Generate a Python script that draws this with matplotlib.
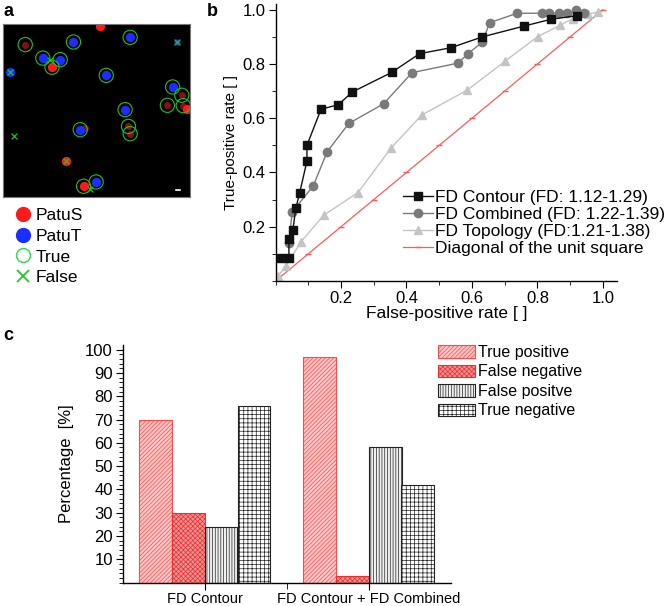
import matplotlib as mpl
import matplotlib.pyplot as plt
from matplotlib.lines import Line2D
import numpy as np

mpl.rcParams.update({
    "font.family": ["Liberation Sans", "DejaVu Sans"],
    "font.size": 12,
    "axes.linewidth": 1.0,
    "hatch.linewidth": 0.5,
    "xtick.direction": "out",
    "ytick.direction": "out",
    "xtick.major.size": 5,
    "ytick.major.size": 5,
    "xtick.minor.size": 3,
    "ytick.minor.size": 3,
})

# ── (a) microscopy overlay, positions as image fractions (x right, y down) ──
patus_bright = [(0.52, 0.01), (0.262, 0.25), (0.338, 0.794), (0.431, 0.938), (0.985, 0.49)]
patus_dim = [(0.119, 0.119), (0.956, 0.412), (0.879, 0.47), (0.964, 0.472),
             (0.671, 0.592), (0.68, 0.634), (0.44, 0.60)]
patut = [(0.377, 0.104), (0.68, 0.077), (0.213, 0.197), (0.306, 0.206), (0.039, 0.279),
         (0.552, 0.297), (0.907, 0.364), (0.653, 0.495), (0.413, 0.611), (0.498, 0.913)]
patut_small = [(0.929, 0.104), (0.045, 0.27)]
true_hits = [(0.119, 0.119), (0.377, 0.104), (0.68, 0.077), (0.213, 0.197), (0.306, 0.206),
             (0.262, 0.25), (0.552, 0.297), (0.907, 0.364), (0.956, 0.412), (0.879, 0.47),
             (0.964, 0.472), (0.653, 0.495), (0.413, 0.611), (0.671, 0.592), (0.68, 0.634),
             (0.431, 0.938), (0.498, 0.913)]
false_hits = [(0.929, 0.104), (0.253, 0.21), (0.039, 0.279), (0.057, 0.645),
              (0.338, 0.794), (0.466, 0.954)]

# ── (b) ROC curves ──
contour_fpr = [0.018, 0.041, 0.041, 0.053, 0.062, 0.074, 0.096, 0.096, 0.139, 0.192,
               0.235, 0.355, 0.44, 0.536, 0.632, 0.76, 0.842, 0.921]
contour_tpr = [0.084, 0.084, 0.154, 0.188, 0.268, 0.326, 0.442, 0.50, 0.633, 0.65,
               0.697, 0.769, 0.838, 0.86, 0.90, 0.94, 0.965, 0.978]
combined_fpr = [0.041, 0.051, 0.115, 0.158, 0.224, 0.33, 0.417, 0.557, 0.588, 0.632,
                0.654, 0.738, 0.813, 0.835, 0.867, 0.889, 0.919, 0.942]
combined_tpr = [0.141, 0.255, 0.35, 0.477, 0.581, 0.653, 0.768, 0.803, 0.838, 0.881,
                0.952, 0.987, 0.987, 0.987, 0.987, 0.987, 0.998, 0.987]
topology_fpr = [0.008, 0.033, 0.078, 0.148, 0.252, 0.352, 0.447, 0.586, 0.702, 0.801,
                0.868, 0.908, 0.954, 0.985]
topology_tpr = [0.018, 0.057, 0.145, 0.243, 0.326, 0.489, 0.612, 0.704, 0.811, 0.901,
                0.942, 0.967, 0.984, 0.991]
diag_vals = [0.0, 0.1, 0.2, 0.3, 0.4, 0.5, 0.6, 0.7, 0.8, 0.9, 1.0]

# ── (c) classification percentages ──
groups = ["FD Contour", "FD Contour + FD Combined"]
true_pos = [70, 97]
false_neg = [30, 3]
false_pos = [24, 58]
true_neg = [76, 42]

fig = plt.figure(figsize=(6.66, 6.06), dpi=100)
W, H = 666, 606


def px_axes(x0, y0, x1, y1):
    return fig.add_axes([x0 / W, 1 - y1 / H, (x1 - x0) / W, (y1 - y0) / H])


# ── panel a ──────────────────────────────────────────────────
ax = px_axes(3, 24, 190, 197)
ax.set_facecolor("black")
ax.set_xlim(0, 1)
ax.set_ylim(1, 0)
ax.set_xticks([])
ax.set_yticks([])
for s in ax.spines.values():
    s.set_color("#777777")
    s.set_linewidth(0.8)
xy = np.array(patus_dim)
ax.scatter(xy[:, 0], xy[:, 1], s=16, color="#8a1010", zorder=2)
xy = np.array(patus_bright)
ax.scatter(xy[:, 0], xy[:, 1], s=32, color="#ff1a1a", zorder=2)
xy = np.array(patut)
ax.scatter(xy[:, 0], xy[:, 1], s=32, color="#1a2eff", zorder=2)
xy = np.array(patut_small)
ax.scatter(xy[:, 0], xy[:, 1], s=12, color="#1a2eff", zorder=2)
xy = np.array(true_hits)
ax.scatter(xy[:, 0], xy[:, 1], s=105, facecolors="none", edgecolors="#22c022",
           linewidths=0.8, zorder=3)
xy = np.array(false_hits)
ax.scatter(xy[:, 0], xy[:, 1], s=18, marker="x", color="#22c022", linewidths=0.9, zorder=3)
ax.plot([0.925, 0.945], [0.958, 0.958], color="white", linewidth=1.2)

handles_a = [
    Line2D([], [], linestyle="none", marker="o", markersize=10, color="#ff1a1a"),
    Line2D([], [], linestyle="none", marker="o", markersize=10, color="#1a2eff"),
    Line2D([], [], linestyle="none", marker="o", markersize=10, markerfacecolor="none",
           markeredgecolor="#22dd44", markeredgewidth=1.0),
    Line2D([], [], linestyle="none", marker="x", markersize=8, color="#22cc22",
           markeredgewidth=1.3),
]
fig.legend(handles_a, ["PatuS", "PatuT", "True", "False"], loc="upper left",
           bbox_to_anchor=(14 / W, 1 - 208 / H), frameon=False, fontsize=12.5,
           handlelength=1.0, handletextpad=0.25, labelspacing=0.32,
           borderpad=0, borderaxespad=0)

# ── panel b ──────────────────────────────────────────────────
ax = px_axes(275.5, 4.3, 617, 281)
ax.plot(diag_vals, diag_vals, "-", marker="_", markersize=4, color="#ff5a5a",
        linewidth=0.9, label="Diagonal of the unit square", zorder=1)
ax.plot(topology_fpr, topology_tpr, "^-", color="#c4c4c4", markersize=6, linewidth=1.0,
        label="FD Topology (FD:1.21-1.38)", zorder=2)
ax.plot(combined_fpr, combined_tpr, "o-", color="#7a7a7a", markersize=6, linewidth=1.0,
        label="FD Combined (FD: 1.22-1.39)", zorder=3)
ax.plot(contour_fpr, contour_tpr, "s-", color="#111111", markersize=5.5, linewidth=1.0,
        label="FD Contour (FD: 1.12-1.29)", zorder=4)
ax.set_xlim(0, 1.043)
ax.set_ylim(0, 1.02)
ax.spines["top"].set_visible(False)
ax.spines["right"].set_visible(False)
ax.set_xticks([0.2, 0.4, 0.6, 0.8, 1.0])
ax.set_xticks([0.0, 0.1, 0.3, 0.5, 0.7, 0.9], minor=True)
ax.set_yticks([0.2, 0.4, 0.6, 0.8, 1.0])
ax.set_yticks([0.0, 0.1, 0.3, 0.5, 0.7, 0.9], minor=True)
ax.tick_params(labelsize=12, pad=2)
ax.set_xlabel("False-positive rate [ ]", fontsize=12.5, labelpad=0)
ax.set_ylabel("True-positive rate [ ]", fontsize=11, labelpad=3)
h, l = ax.get_legend_handles_labels()
order = [3, 2, 1, 0]
ax.legend([h[i] for i in order], [l[i] for i in order], loc="upper left",
          bbox_to_anchor=(403 / W, 1 - 190 / H), bbox_transform=fig.transFigure,
          frameon=False, fontsize=12.5, handlelength=1.7, handletextpad=0.12,
          labelspacing=0.1, borderpad=0, borderaxespad=0)

# ── panel c ──────────────────────────────────────────────────
ax = px_axes(122.7, 345, 450.7, 582.6)
x = np.arange(1, len(groups) + 1)
bw = 0.2
ax.bar(x - 0.3, true_pos, bw, facecolor="#ffc6c6", edgecolor="#ff4a4a", hatch="////////",
       linewidth=0.8, label="True positive")
ax.bar(x - 0.1, false_neg, bw, facecolor="#f39090", edgecolor="#e83030", hatch="xxxxxxx",
       linewidth=0.8, label="False negative")
ax.bar(x + 0.1, false_pos, bw, facecolor="#f0f0f0", edgecolor="#222222", hatch="||||||",
       linewidth=0.8, label="False positve")
ax.bar(x + 0.3, true_neg, bw, facecolor="white", edgecolor="#222222", hatch="++++",
       linewidth=0.8, label="True negative")
ax.set_xlim(0.5, 2.5)
ax.set_ylim(0, 102)
ax.spines["top"].set_visible(False)
ax.spines["right"].set_visible(False)
ax.set_xticks(x)
ax.set_xticklabels(groups, fontsize=10.5)
ax.set_xticks([1.5], minor=True)
ax.set_yticks(np.arange(10, 101, 10))
ax.set_yticks(np.arange(0, 101, 2), minor=True)
ax.tick_params(axis="y", labelsize=12, pad=2)
ax.tick_params(axis="x", pad=1.5)
ax.tick_params(axis="x", which="minor", length=4)
ax.set_ylabel("Percentage  [%]", fontsize=12, labelpad=8)
ax.legend(loc="upper left", bbox_to_anchor=(438 / W, 1 - 345 / H),
          bbox_transform=fig.transFigure, frameon=False, fontsize=11.5,
          handlelength=2.3, handleheight=0.85, handletextpad=0.2,
          labelspacing=0.28, borderpad=0, borderaxespad=0)

# panel letters
fig.text(4 / W, 1 - 12 / H, "a", fontsize=13, fontweight="bold", va="center")
fig.text(207 / W, 1 - 12 / H, "b", fontsize=13, fontweight="bold", va="center")
fig.text(3 / W, 1 - 335 / H, "c", fontsize=13, fontweight="bold", va="center")

fig.savefig("out.png", dpi=100)
